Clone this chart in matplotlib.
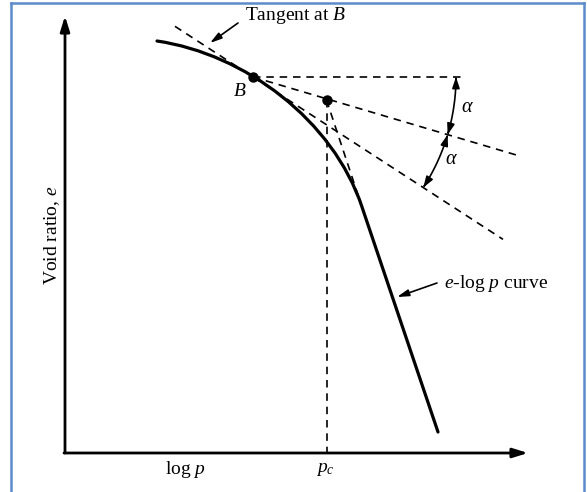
import numpy as np
import matplotlib
matplotlib.use("Agg")
import matplotlib.pyplot as plt
from matplotlib.path import Path
from matplotlib.patches import FancyArrowPatch, PathPatch
from matplotlib.lines import Line2D

SERIF = "Liberation Serif"
plt.rcParams["font.family"] = [SERIF, "DejaVu Serif"]
plt.rcParams["mathtext.fontset"] = "custom"
plt.rcParams["mathtext.rm"] = SERIF
plt.rcParams["mathtext.it"] = SERIF + ":italic"

# ---- schematic e-log p curve (x = log p, y = void ratio e) ----
# smooth upper part: cubic Bezier anchor / control points
curve_ctrl_x = [0.92, 1.80, 2.68, 2.97]
curve_ctrl_e = [4.12, 3.99, 3.33, 2.46]
# straight virgin-compression part
line_x = [2.97, 3.73]
line_e = [2.46, 0.21]

# point B (maximum curvature) and tangent direction
B = (1.88, 3.76)
tangent_deg = 33.0
tangent_x = [1.10, 4.38]
horiz_x = [1.88, 3.99]
bisector_x = [1.88, 4.53]

# intersection point and p_c
pc_point = (2.615, 3.53)
arc_radius = 2.03

# axis extents
x_axis_end = 4.63
y_axis_end = 4.37

fig = plt.figure(figsize=(5.87, 4.92), dpi=100)
ax = fig.add_axes([0, 0, 1, 1])
ax.set_xlim(-0.65, 5.22)
ax.set_ylim(-0.39, 4.53)
ax.axis("off")

# frame
blue = "#5b8bc9"
for xs, ys in [([10.5, 10.5], [0, 489]), ([10.5, 584], [489, 489]), ([584, 584], [0, 489])]:
    fig.add_artist(Line2D(np.array(xs) / 587, np.array(ys) / 492, color=blue, lw=1.8))

# axes with arrows
arrow_kw = dict(arrowstyle="-|>,head_length=0.9,head_width=0.28", lw=2.0,
                color="black", shrinkA=0, shrinkB=0)
ax.annotate("", xy=(0, y_axis_end), xytext=(0, 0), arrowprops=arrow_kw)
ax.annotate("", xy=(x_axis_end, 0), xytext=(-0.01, 0), arrowprops=arrow_kw)

# curve
verts = list(zip(curve_ctrl_x, curve_ctrl_e)) + [(line_x[1], line_e[1])]
codes = [Path.MOVETO, Path.CURVE4, Path.CURVE4, Path.CURVE4, Path.LINETO]
ax.add_patch(PathPatch(Path(verts, codes), fill=False, lw=2.3, color="black",
                       capstyle="round", joinstyle="round"))

dash = dict(color="black", lw=1.2, dashes=(4.5, 3.5))

# horizontal line at B
ax.plot(horiz_x, [B[1], B[1]], **dash)
# tangent at B
slope_t = np.tan(np.radians(tangent_deg))
tx = np.array(tangent_x)
ax.plot(tx, B[1] - slope_t * (tx - B[0]), **dash)
# bisector
slope_b = np.tan(np.radians(tangent_deg / 2))
bx = np.array(bisector_x)
ax.plot(bx, B[1] - slope_b * (bx - B[0]), **dash)
# extension of straight part up to bisector
ax.plot([pc_point[0], line_x[0]], [pc_point[1], line_e[0]], **dash)
# vertical to p_c
ax.plot([pc_point[0], pc_point[0]], [pc_point[1], 0], **dash)

# points
ax.plot(*B, "o", color="black", ms=6.5)
ax.plot(*pc_point, "o", color="black", ms=6.5)

# angle arcs with double arrows
def arc(a0, a1):
    t = np.radians(np.linspace(a0, a1, 40))
    pts = np.column_stack([B[0] + arc_radius * np.cos(t), B[1] + arc_radius * np.sin(t)])
    p = FancyArrowPatch(path=Path(pts), arrowstyle="<|-|>,head_length=6.5,head_width=2.2",
                        mutation_scale=1, lw=1.2, color="black", shrinkA=0, shrinkB=0)
    ax.add_patch(p)

arc(0, -tangent_deg / 2)
arc(-tangent_deg / 2, -tangent_deg)

ax.text(4.02, 3.45, "α", fontsize=14.5, style="italic", ha="center", va="center")
ax.text(3.86, 2.94, "α", fontsize=14.5, style="italic", ha="center", va="center")

# labels
fs = 14
small_arrow = dict(arrowstyle="-|>,head_length=0.7,head_width=0.2", lw=1.2,
                   color="black", shrinkA=0, shrinkB=0)
ax.text(1.80, 4.37, "Tangent at $B$", fontsize=fs, ha="left", va="center")
ax.annotate("", xy=(1.45, 4.10), xytext=(1.73, 4.30), arrowprops=small_arrow)
ax.text(1.75, 3.62, "$B$", fontsize=fs, ha="center", va="center")
ax.text(3.79, 1.70, "$e$-log $p$ curve", fontsize=fs, ha="left", va="center")
ax.annotate("", xy=(3.32, 1.56), xytext=(3.72, 1.70), arrowprops=small_arrow)
ax.text(1.20, -0.17, "log $p$", fontsize=fs, ha="center", va="center")
ax.text(2.60, -0.17, "$p_c$", fontsize=fs, ha="center", va="center")
ax.text(-0.13, 2.18, "Void ratio, $e$", fontsize=fs, ha="center", va="center", rotation=90)

fig.savefig("out.png", dpi=100, facecolor="white")
